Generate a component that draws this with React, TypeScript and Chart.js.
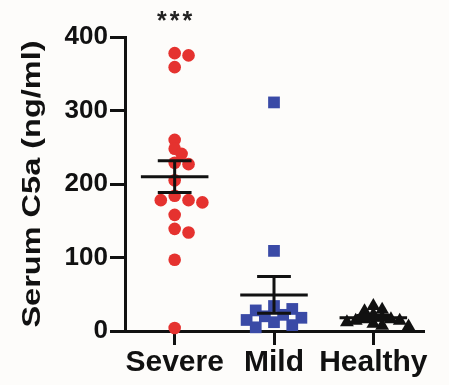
import React, { useEffect, useRef } from 'react';
import { Chart, registerables } from 'chart.js';

Chart.register(...registerables);

// ---- data ----
const categories = ['Severe', 'Mild', 'Healthy'];
const severeValues = [378, 375, 359, 260, 248, 241, 229, 227, 205, 184, 178, 178, 175, 158, 139, 134, 97, 4];
const mildValues = [311, 109, 34, 30, 28, 22, 20, 18, 15, 12, 8, 5];
const healthyValues = [34, 29, 27, 22, 18, 16, 16, 14, 14, 12, 10, 7, 6];
const groupMeans = [210, 49, 18];
const groupSems = [21.5, 25, 3];
const significance = ['***', '', ''];
const yTickValues = [0, 100, 200, 300, 400];
const yTitle = 'Serum C5a (ng/ml)';

const FONT = '"Liberation Sans", Arial, Helvetica, sans-serif';
const INK = '#111111';
const PAPER = '#fdfcfa';

const groups = [
  { values: severeValues, color: '#e5322f', style: 'circle', radius: 6.3, spread: 1.35 },
  { values: mildValues, color: '#3a4aa6', style: 'rect', radius: 8.3, spread: 1.3 },
  { values: healthyValues, color: '#111111', style: 'triangle', radius: 8, spread: 1.0 },
];

function swarm(values: number[], yPix: (v: number) => number, r: number, spread: number): number[] {
  const order = values.map((_, i) => i).sort((a, b) => values[b] - values[a]);
  const placed: { x: number; y: number }[] = [];
  const offs = new Array(values.length).fill(0);
  const step = r * 1.1 * Math.min(1, spread);
  const minDist = r * spread;
  for (const idx of order) {
    const py = yPix(values[idx]);
    for (let k = 0; k < 60; k++) {
      const m = k === 0 ? 0 : (k % 2 === 1 ? (k + 1) / 2 : -k / 2);
      const px = m * step;
      if (placed.every((p) => Math.hypot(p.x - px, p.y - py) >= minDist)) {
        placed.push({ x: px, y: py });
        offs[idx] = px;
        break;
      }
    }
  }
  return offs;
}

function buildErrorData() {
  const pts: { x: number; y: number | null }[] = [];
  groupMeans.forEach((m, i) => {
    const s = groupSems[i];
    pts.push({ x: i - 0.34, y: m }, { x: i + 0.34, y: m }, { x: i, y: null });
    pts.push({ x: i, y: m - s }, { x: i, y: m + s }, { x: i, y: null });
    pts.push({ x: i - 0.17, y: m + s }, { x: i + 0.17, y: m + s }, { x: i, y: null });
    pts.push({ x: i - 0.17, y: m - s }, { x: i + 0.17, y: m - s }, { x: i, y: null });
  });
  return pts;
}

const sigPlugin = {
  id: 'sigPlugin',
  afterDatasetsDraw(chart: any) {
    const ctx = chart.ctx;
    const xs = chart.scales.x;
    ctx.save();
    ctx.font = `bold 25px ${FONT}`;
    ctx.fillStyle = '#222';
    ctx.textAlign = 'center';
    ctx.textBaseline = 'alphabetic';
    (ctx as any).letterSpacing = '3px';
    significance.forEach((t, i) => {
      if (!t) return;
      ctx.fillText(t, xs.getPixelForValue(i) + 1.5, chart.chartArea.top - 8);
    });
    ctx.restore();
  },
};

const stretchTitlePlugin = {
  id: 'stretchTitle',
  afterLayout(chart: any) {
    const s: any = chart.scales.y;
    if (!s || s._stretched) return;
    const orig = s.drawTitle.bind(s);
    s.drawTitle = function () {
      const ctx = chart.ctx;
      const cy = (s.top + s.bottom) / 2;
      ctx.save();
      ctx.translate(0, cy);
      ctx.scale(1, 1.3);
      ctx.translate(0, -cy);
      orig();
      ctx.restore();
    };
    s._stretched = true;
  },
};

export default function App() {
  const ref = useRef<HTMLCanvasElement | null>(null);

  useEffect(() => {
    document.body.style.background = PAPER;
    if (!ref.current) return;
    const datasets: any[] = [
      {
        label: 'mean ± SEM',
        data: buildErrorData(),
        showLine: true,
        spanGaps: false,
        borderColor: INK,
        borderWidth: 3,
        pointRadius: 0,
        clip: false,
      },
      ...groups.map((g, gi) => ({
        label: categories[gi],
        data: g.values.map((v) => ({ x: gi, y: v })),
        pointStyle: g.style,
        pointRadius: g.radius,
        backgroundColor: g.color,
        borderColor: g.color,
        borderWidth: 0,
        showLine: false,
        clip: false,
      })),
    ];

    const chart = new Chart(ref.current, {
      type: 'scatter',
      data: { datasets },
      options: {
        animation: false,
        responsive: false,
        devicePixelRatio: 1,
        layout: { padding: { top: 29, right: 18, left: 0, bottom: 0 } },
        plugins: { legend: { display: false }, tooltip: { enabled: false } },
        scales: {
          x: {
            type: 'linear',
            min: -0.5,
            max: 2.5,
            afterBuildTicks: (scale: any) => {
              scale.ticks = categories.map((_, i) => ({ value: i }));
            },
            afterFit: (scale: any) => {
              scale.height = 46;
            },
            ticks: {
              autoSkip: false,
              maxRotation: 0,
              padding: 0,
              color: INK,
              font: { family: FONT, size: 30, weight: 'bold' },
              callback: (_v: any, i: number) => categories[i],
            },
            grid: { drawOnChartArea: false, drawTicks: true, tickLength: 14, color: INK, lineWidth: 3 },
            border: { display: true, color: INK, width: 3 },
          },
          y: {
            type: 'linear',
            min: 0,
            max: 400,
            afterBuildTicks: (scale: any) => {
              scale.ticks = yTickValues.map((v) => ({ value: v }));
            },
            afterFit: (scale: any) => {
              scale.width = 117;
            },
            ticks: {
              padding: 2,
              color: INK,
              font: { family: FONT, size: 26, weight: 'bold' },
            },
            grid: { drawOnChartArea: false, drawTicks: true, tickLength: 15, color: INK, lineWidth: 3 },
            border: { display: true, color: INK, width: 3 },
            title: {
              display: true,
              text: yTitle,
              color: INK,
              font: { family: FONT, size: 25, weight: 'bold' },
              padding: { top: 10, bottom: 0 },
            },
          },
        },
      } as any,
      plugins: [sigPlugin, stretchTitlePlugin],
    });

    // beeswarm spread of points, computed through the chart's own scales
    const xs: any = chart.scales.x;
    const ys: any = chart.scales.y;
    const unit = xs.getPixelForValue(1) - xs.getPixelForValue(0);
    groups.forEach((g, gi) => {
      const offs = swarm(g.values, (v) => ys.getPixelForValue(v), g.radius, g.spread);
      (chart.data.datasets[gi + 1] as any).data = g.values.map((v, i) => ({ x: gi + offs[i] / unit, y: v }));
    });
    chart.update('none');

    return () => chart.destroy();
  }, []);

  return (
    <div style={{ width: 433, height: 369, background: PAPER }}>
      <canvas ref={ref} width={433} height={369} style={{ display: 'block' }} />
    </div>
  );
}
